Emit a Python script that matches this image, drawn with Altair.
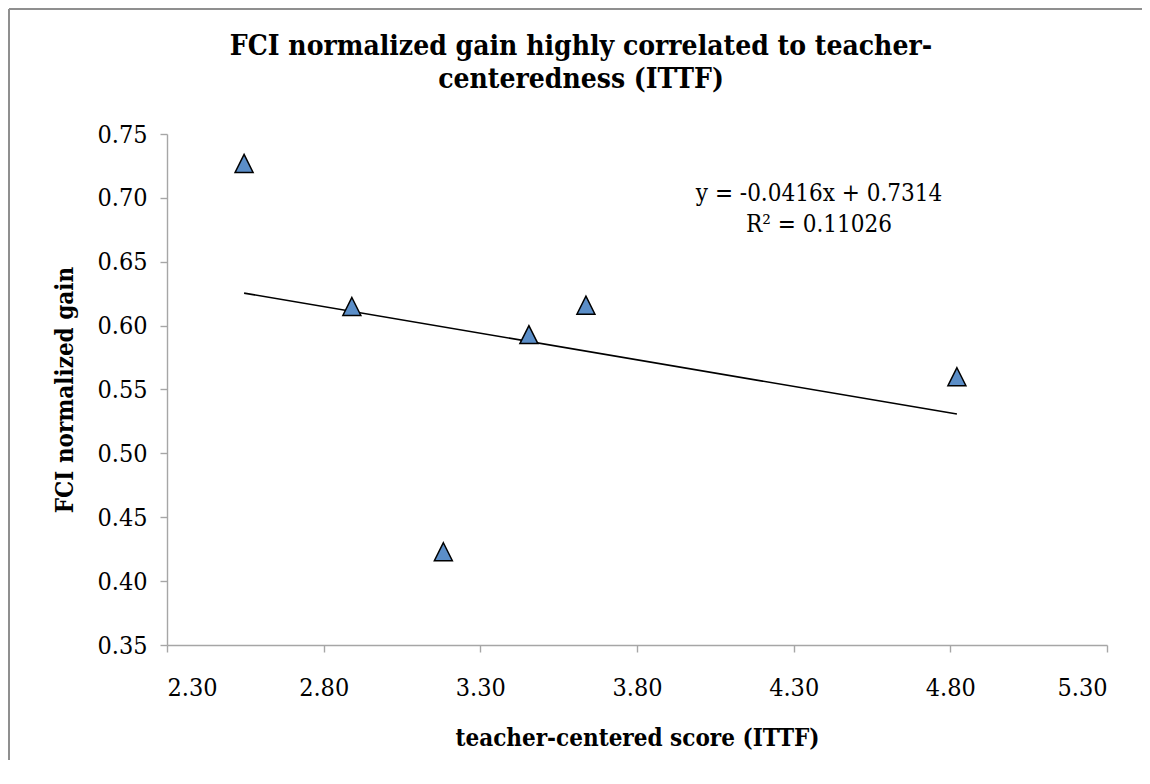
import altair as alt
import pandas as pd

# ---- data ----
x_vals = [2.546, 2.890, 3.182, 3.455, 3.637, 4.821]
y_vals = [0.727, 0.615, 0.423, 0.593, 0.616, 0.560]
x_ticks = [2.30, 2.80, 3.30, 3.80, 4.30, 4.80, 5.30]
y_ticks = [0.35, 0.40, 0.45, 0.50, 0.55, 0.60, 0.65, 0.70, 0.75]
title_lines = ["FCI normalized gain highly correlated to teacher-", "centeredness (ITTF)"]
eq_lines = ["y = -0.0416x + 0.7314", "R\u00b2 = 0.11026"]
x_title = "teacher-centered score (ITTF)"
y_title = "FCI normalized gain"

FONT = "DejaVu Serif Condensed"
W, H = 940, 511
AX = "#a6a6a6"

df = pd.DataFrame({"x": x_vals, "y": y_vals})
one = pd.DataFrame({"k": [0]})

xscale = alt.Scale(domain=[2.3, 5.3], nice=False, zero=False)
yscale = alt.Scale(domain=[0.35, 0.75], nice=False, zero=False)

X = alt.X("x:Q", scale=xscale,
          axis=alt.Axis(values=x_ticks, format=".2f", title=x_title,
                        labelPadding=23, titleX=W / 2, titleY=100,
                        titleBaseline="alphabetic", titleAlign="center"))
Y = alt.Y("y:Q", scale=yscale,
          axis=alt.Axis(values=y_ticks, format=".2f", title=y_title,
                        labelPadding=13, titleX=-95, titleY=H / 2,
                        titleBaseline="alphabetic", titleAlign="center",
                        titleAngle=270))

points = alt.Chart(df).mark_point(
    shape="M0,-1L1,1L-1,1Z", size=324, filled=True, fill="#5b8ec8",
    stroke="black", strokeWidth=1.5, opacity=1
).encode(x=X, y=Y)

trend = alt.Chart(df).transform_regression(
    "x", "y", extent=[min(x_vals), max(x_vals)]
).mark_line(color="black", strokeWidth=1.6).encode(x=X, y=Y)

eq_text = alt.Chart(one).mark_text(
    text=eq_lines, font=FONT, fontSize=24, align="center",
    baseline="alphabetic", lineHeight=31, color="black"
).encode(x=alt.value(652), y=alt.value(67))

title_text = alt.Chart(one).mark_text(
    text=title_lines, font=FONT, fontSize=28, fontWeight="bold",
    align="center", baseline="alphabetic", lineHeight=33, color="black"
).encode(x=alt.value(414), y=alt.value(-79))

border_left = alt.Chart(one).mark_rule(color="#8f8f8f", strokeWidth=2).encode(
    x=alt.value(-158), y=alt.value(-125), y2=alt.value(H + 200))
border_top = alt.Chart(one).mark_rule(color="#8f8f8f", strokeWidth=2).encode(
    x=alt.value(-158), x2=alt.value(W + 200), y=alt.value(-125))

chart = alt.layer(
    border_left, border_top, trend, points, eq_text, title_text
).properties(
    width=W, height=H, autosize="none",
    padding={"left": 159, "top": 126, "right": 35, "bottom": 115}
).configure_view(stroke=None).configure_axis(
    grid=False, domainColor=AX, domainWidth=1.4, tickColor=AX,
    tickWidth=1.4, tickSize=7, labelFont=FONT, labelFontSize=25,
    labelColor="black", titleFont=FONT, titleFontSize=24,
    titleFontWeight="bold", titleColor="black"
)

chart.save("out.html", embed_options={"renderer": "svg", "actions": False})
